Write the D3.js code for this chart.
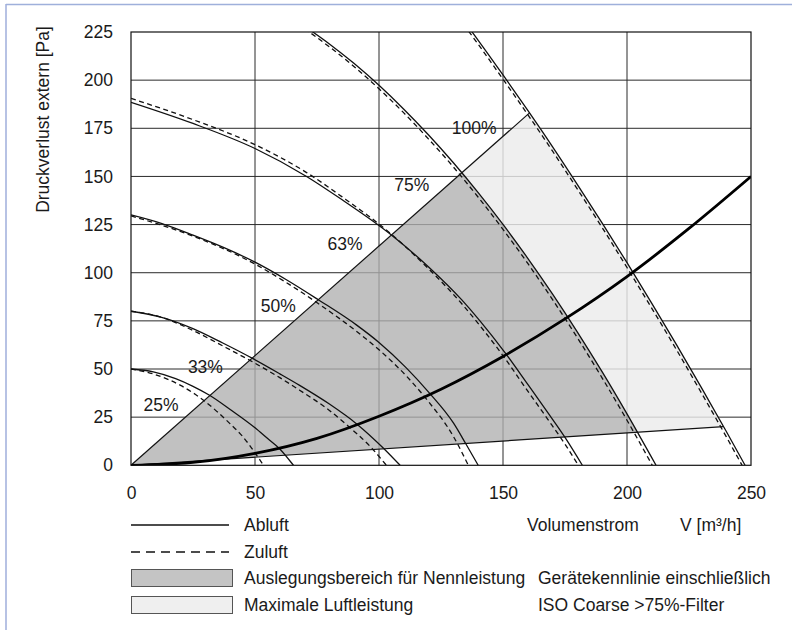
<!DOCTYPE html>
<html><head><meta charset="utf-8">
<script src="https://cdn.jsdelivr.net/npm/d3@7"></script>
<style>
body{margin:0;background:#fff}
svg{display:block}
text{font-family:"Liberation Sans",Arial,Helvetica,sans-serif;fill:#1a1a1a}
</style>
</head><body>
<svg id="c" width="792" height="630"></svg>
<script>
// ---------- data ----------
const flowTicks = [0, 50, 100, 150, 200, 250];
const pressureTicks = [0, 25, 50, 75, 100, 125, 150, 175, 200, 225];

// fan curves, Abluft (solid)
const abluft25 = [[0,50],[9,48.5],[18,45],[25,41],[31.5,36.5],[40,29],[50,19.5],[55,14],[60,8.5],[65.5,0]];
const abluft33 = [[0,80],[12,77],[25,71],[37,63.5],[49,55.5],[60,47.5],[68,41.5],[80,31.8],[91,21.5],[101.7,9],[108.5,0]];
const abluft50 = [[0,130],[12.5,125.5],[25,119.5],[37.5,113],[50,105.5],[62.5,96.5],[75.5,86],[91,72.8],[100,63.8],[111,50.6],[120,38],[130,22],[135,11.2],[140,0]];
const abluft63 = [[0,188.5],[25,177.5],[50,164.5],[70.8,150],[85,138],[105,119.6],[120,103],[133.3,86],[140.7,75],[150.8,58.5],[160,42],[168,27.5],[175,14.5],[182,0]];
const abluft75 = [[70,228],[80,218.8],[90,208.6],[100,197.3],[110,184.9],[120,171.5],[130,157.1],[140,141.6],[150,125.1],[160,107.5],[170,88.9],[180,69.2],[190,48.5],[200,26.7],[211.7,0]];
const abluft100 = [[130,238],[140,220.7],[150,202.7],[160,184.3],[170,165.4],[180,145.8],[190,125.8],[200,105.2],[210,84.1],[220,62.5],[230,40.3],[240,17.7],[247.6,0]];

// fan curves, Zuluft (dashed)
const zuluft25 = [[0,50],[10,47],[20,41.5],[30,33],[40,21.5],[45,15],[50,6.5],[53.4,0]];
const zuluft33 = [[0,80],[12,77],[25,70],[37,62],[50,53],[60,45.5],[68,39],[80,28.5],[87,21],[97,9],[103,0]];
const zuluft50 = [[0,129.5],[25,119],[50,104.5],[62.5,95],[75.5,84],[91,69.5],[100,60],[111,46.4],[120,33],[130,15],[136,0]];
const zuluft63 = [[0,190.5],[25,179.5],[50,166.5],[70.8,152],[85,139.5],[105,120],[120,102],[133.3,84],[140.7,72.5],[150.8,55.5],[160,38.5],[168,24],[175,11],[180.4,0]];
const zuluft75 = [[70,226.7],[80,217.3],[90,207],[100,195.5],[110,183],[120,169.4],[130,154.9],[140,139.2],[150,122.5],[160,104.8],[170,86],[180,66.2],[190,45.3],[200,23.4],[210.2,0]];
const zuluft100 = [[130,236],[140,218.6],[150,200.5],[160,182.1],[170,163.1],[180,143.4],[190,123.4],[200,102.7],[210,81.5],[220,59.9],[230,37.6],[240,14.9],[246.4,0]];

// system characteristic (thick)
const systemCurve = [[0,0],[25,1.5],[50,6.2],[75,14],[100,25.5],[125,39.5],[150,56.5],[175,76],[200,98],[225,123],[250,150]];

// design range limit lines
const limitTop = [[0,0],[160.7,183]];
const limitBottom = [[0,0],[238.9,20.1]];

// percentage labels
const percentLabels = ["25%","33%","50%","63%","75%","100%"];
const labelFlow = [12.1, 30, 59.4, 86.3, 113.2, 138.4];
const labelPressure = [31.5, 51.4, 82.7, 115.1, 145.7, 175.5];

const legendItems = ["Abluft","Zuluft","Auslegungsbereich für Nennleistung","Maximale Luftleistung"];
const noteLines = ["Gerätekennlinie einschließlich","ISO Coarse >75%-Filter"];

// ---------- drawing ----------
const FS = "17.5px";
const svg = d3.select("#c");
const x = d3.scaleLinear().domain([0,250]).range([131,751]);
const y = d3.scaleLinear().domain([0,225]).range([465.3,32]);

// outer frame (left and top)
svg.append("line").attr("x1",6).attr("x2",6).attr("y1",4).attr("y2",630)
  .attr("stroke","#b7c2e4").attr("stroke-width",2);
svg.append("line").attr("x1",6).attr("x2",792).attr("y1",4.5).attr("y2",4.5)
  .attr("stroke","#9fb0db").attr("stroke-width",1.5);

svg.append("defs").append("clipPath").attr("id","plot")
  .append("rect").attr("x",x(0)).attr("y",y(225)).attr("width",x(250)-x(0)).attr("height",y(0)-y(225));

// grid
const grid = svg.append("g").attr("stroke","#2a2a2a").attr("stroke-width",1);
grid.selectAll(".v").data(flowTicks.slice(1,-1)).enter().append("line")
  .attr("x1",d=>x(d)).attr("x2",d=>x(d)).attr("y1",y(0)).attr("y2",y(225));
grid.selectAll(".h").data(pressureTicks.slice(1,-1)).enter().append("line")
  .attr("x1",x(0)).attr("x2",x(250)).attr("y1",d=>y(d)).attr("y2",d=>y(d));

// region construction
function crossing(curve, slope){
  for(let i=0;i<curve.length-1;i++){
    const a=curve[i], b=curve[i+1];
    const fa=a[1]-slope*a[0], fb=b[1]-slope*b[0];
    if(fa>=0 && fb<=0){
      const t=fa/(fa-fb);
      return [a[0]+t*(b[0]-a[0]), a[1]+t*(b[1]-a[1])];
    }
  }
  return curve[curve.length-1];
}
const sTop = limitTop[1][1]/limitTop[1][0];
const sBot = limitBottom[1][1]/limitBottom[1][0];
const p1 = crossing(abluft75, sTop), p2 = crossing(abluft75, sBot);
const q1 = crossing(abluft100, sTop), q2 = crossing(abluft100, sBot);
const mid75 = abluft75.filter(d=>d[0]>p1[0] && d[0]<p2[0]);
const mid100 = abluft100.filter(d=>d[0]>q1[0] && d[0]<q2[0]);
const designArea = [[0,0], p1, ...mid75, p2];
const maxArea = [p1, q1, ...mid100, q2, p2, ...mid75.slice().reverse()];

const poly = d3.line().x(d=>x(d[0])).y(d=>y(d[1]));
svg.append("path").attr("d",poly(maxArea)+"Z").attr("fill","#ececec").attr("fill-opacity",0.82);
svg.append("path").attr("d",poly(designArea)+"Z").attr("fill","#b0b0b0").attr("fill-opacity",0.78);

// limit lines
[limitTop, limitBottom].forEach(l=>{
  svg.append("path").attr("d",poly(l)).attr("stroke","#111").attr("stroke-width",1.2).attr("fill","none");
});

// curves
const curveLine = d3.line().x(d=>x(d[0])).y(d=>y(d[1])).curve(d3.curveMonotoneX);
const cg = svg.append("g").attr("clip-path","url(#plot)").attr("fill","none");
[abluft25,abluft33,abluft50,abluft63,abluft75,abluft100].forEach(c=>{
  cg.append("path").attr("d",curveLine(c)).attr("stroke","#111").attr("stroke-width",1.3);
});
[zuluft25,zuluft33,zuluft50,zuluft63,zuluft75,zuluft100].forEach(c=>{
  cg.append("path").attr("d",curveLine(c)).attr("stroke","#111").attr("stroke-width",1.3)
    .attr("stroke-dasharray","5,3.5");
});
cg.append("path").attr("d",curveLine(systemCurve)).attr("stroke","#000").attr("stroke-width",2.8);

// plot border
svg.append("rect").attr("x",x(0)).attr("y",y(225)).attr("width",x(250)-x(0)).attr("height",y(0)-y(225))
  .attr("fill","none").attr("stroke","#111").attr("stroke-width",1.2);

// axes (labels only)
const ay = svg.append("g").attr("transform",`translate(${x(0)},0)`)
  .call(d3.axisLeft(y).tickValues(pressureTicks).tickSize(0).tickPadding(18));
const ax = svg.append("g").attr("transform",`translate(0,${y(0)})`)
  .call(d3.axisBottom(x).tickValues(flowTicks).tickSize(0).tickPadding(21));
[ax,ay].forEach(g=>{
  g.select(".domain").remove();
  g.attr("font-family",null).attr("font-size",null);
  g.selectAll("text").style("font-size",FS).attr("fill","#1a1a1a");
});

// percentage labels
svg.append("g").selectAll("text").data(percentLabels).enter().append("text")
  .attr("x",(d,i)=>x(labelFlow[i])).attr("y",(d,i)=>y(labelPressure[i])+6.3)
  .attr("text-anchor","middle").style("font-size",FS).text(d=>d);

// axis titles
svg.append("text").attr("transform","translate(49,119.5) rotate(-90)")
  .attr("text-anchor","middle").style("font-size",FS).text("Druckverlust extern [Pa]");
svg.append("text").attr("x",527).attr("y",531).style("font-size",FS).text("Volumenstrom");
svg.append("text").attr("x",680).attr("y",531).style("font-size",FS).text("V [m³/h]");

// legend
const rowY = [525, 552, 578, 605];
svg.append("line").attr("x1",131).attr("x2",229).attr("y1",rowY[0]).attr("y2",rowY[0])
  .attr("stroke","#111").attr("stroke-width",1.3);
svg.append("line").attr("x1",131).attr("x2",229).attr("y1",rowY[1]).attr("y2",rowY[1])
  .attr("stroke","#111").attr("stroke-width",1.3).attr("stroke-dasharray","9,6");
svg.append("rect").attr("x",131.5).attr("y",rowY[2]-8.5).attr("width",101).attr("height",17)
  .attr("fill","#c4c4c4").attr("stroke","#555");
svg.append("rect").attr("x",131.5).attr("y",rowY[3]-8.5).attr("width",101).attr("height",17)
  .attr("fill","#efefef").attr("stroke","#555");
svg.append("g").selectAll("text").data(legendItems).enter().append("text")
  .attr("x",244).attr("y",(d,i)=>rowY[i]+6.3).style("font-size",FS).text(d=>d);
svg.append("g").selectAll("text").data(noteLines).enter().append("text")
  .attr("x",538).attr("y",(d,i)=>rowY[i+2]+6.3).style("font-size",FS).text(d=>d);
</script>
</body></html>
